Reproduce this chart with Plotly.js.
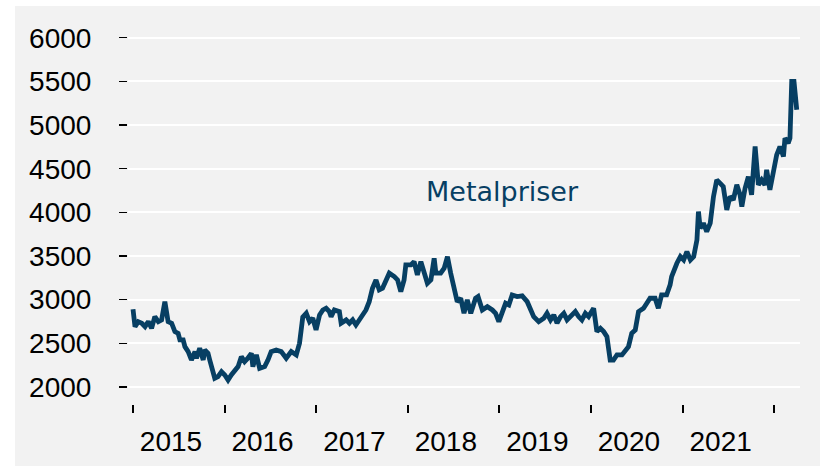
<!DOCTYPE html>
<html>
<head>
<meta charset="utf-8">
<script src="https://cdn.plot.ly/plotly-3.0.1.min.js"></script>
<style>
  html, body { margin: 0; padding: 0; background: #ffffff; }
  #chart { position: absolute; left: 15px; top: 6px; width: 805px; height: 460px; }
</style>
</head>
<body>
<div id="chart"></div>
<script>
// Metal price index
const dates = [
  "2015-01-01","2015-01-09","2015-01-22","2015-02-05","2015-02-18","2015-03-03","2015-03-16","2015-03-29",
  "2015-04-12","2015-04-25","2015-05-08","2015-05-15","2015-05-21","2015-06-04","2015-06-17","2015-06-30",
  "2015-07-07","2015-07-20","2015-07-27","2015-08-09","2015-08-22","2015-09-05","2015-09-11","2015-09-24",
  "2015-10-08","2015-10-14","2015-10-27","2015-11-03","2015-11-16","2015-11-23","2015-12-06","2015-12-20",
  "2016-01-02","2016-01-15","2016-01-28","2016-02-11","2016-02-24","2016-03-08","2016-03-21","2016-04-03",
  "2016-04-17","2016-04-23","2016-05-07","2016-05-20","2016-06-09","2016-06-22","2016-07-05","2016-07-25",
  "2016-08-14","2016-09-03","2016-09-23","2016-10-13","2016-10-26","2016-11-08","2016-11-22","2016-12-05",
  "2016-12-18","2016-12-31","2017-01-14","2017-01-27","2017-02-09","2017-02-22","2017-03-01","2017-03-14",
  "2017-04-03","2017-04-10","2017-04-30","2017-05-13","2017-05-26","2017-06-08","2017-06-22","2017-07-05",
  "2017-07-18","2017-07-31","2017-08-13","2017-08-27","2017-09-09","2017-09-22","2017-10-06","2017-10-19",
  "2017-11-08","2017-11-21","2017-12-04","2017-12-17","2017-12-24","2018-01-13","2018-01-26","2018-02-08",
  "2018-02-22","2018-03-07","2018-03-20","2018-04-03","2018-04-16","2018-04-23","2018-05-12","2018-05-26",
  "2018-06-08","2018-06-21","2018-07-04","2018-07-17","2018-07-31","2018-08-13","2018-08-26","2018-09-09",
  "2018-09-28","2018-10-08","2018-10-25","2018-11-14","2018-12-04","2018-12-17","2018-12-30","2019-01-12",
  "2019-01-26","2019-02-08","2019-02-21","2019-03-13","2019-04-02","2019-04-22","2019-05-05","2019-05-18",
  "2019-06-07","2019-06-27","2019-07-10","2019-07-24","2019-08-06","2019-08-19","2019-09-02","2019-09-15",
  "2019-09-28","2019-10-18","2019-10-31","2019-11-13","2019-11-26","2019-12-10","2019-12-23","2020-01-12",
  "2020-01-25","2020-02-08","2020-02-21","2020-03-05","2020-03-18","2020-03-31","2020-04-14","2020-05-04",
  "2020-05-17","2020-05-30","2020-06-12","2020-06-26","2020-07-09","2020-07-29","2020-08-11","2020-08-24",
  "2020-09-13","2020-09-26","2020-10-09","2020-10-29","2020-11-12","2020-11-18","2020-12-09","2020-12-23",
  "2021-01-05","2021-01-18","2021-02-01","2021-02-14","2021-02-27","2021-03-05","2021-03-12","2021-03-25",
  "2021-04-07","2021-04-21","2021-05-04","2021-05-17","2021-05-30","2021-06-12","2021-06-26","2021-07-09",
  "2021-07-22","2021-08-05","2021-08-18","2021-08-25","2021-09-07","2021-09-20","2021-10-03","2021-10-17",
  "2021-10-30","2021-11-12","2021-11-25","2021-12-02","2021-12-15","2021-12-29","2022-01-11","2022-01-24",
  "2022-02-07","2022-02-13","2022-02-26","2022-03-05","2022-03-12","2022-03-21","2022-03-25","2022-04-01"
];
const metalpriser = [
  2890,2691,2748,2730,2691,2748,2672,2806,
  2748,2768,2977,2882,2748,2730,2634,2615,
  2539,2539,2462,2405,2309,2405,2329,2443,
  2309,2424,2386,2309,2195,2100,2118,2175,
  2138,2080,2138,2195,2233,2347,2290,2329,
  2386,2233,2367,2214,2233,2309,2405,2424,
  2405,2329,2405,2367,2500,2800,2844,2748,
  2787,2653,2825,2882,2902,2863,2806,2882,
  2863,2730,2768,2730,2768,2710,2768,2844,
  2882,2977,3131,3226,3112,3131,3226,3303,
  3264,3226,3092,3226,3398,3398,3436,3284,
  3436,3321,3188,3226,3474,3303,3303,3360,
  3493,3303,3112,2977,3016,2844,2997,2844,
  3016,3035,2882,2920,2882,2844,2748,2844,
  2959,2940,3054,3035,3043,2977,2882,2806,
  2748,2787,2844,2768,2825,2730,2806,2844,
  2768,2825,2863,2806,2768,2844,2806,2902,
  2634,2672,2634,2576,2309,2309,2367,2367,
  2405,2462,2615,2653,2863,2902,2959,3016,
  3016,2902,3054,3054,3169,3264,3417,3493,
  3455,3550,3455,3493,3685,4009,3818,3876,
  3780,3876,4181,4372,4334,4295,4028,4181,
  4143,4315,4200,4066,4277,4410,4200,4754,
  4315,4372,4315,4487,4257,4487,4659,4754,
  4639,4850,4792,4850,5499,5499,5327,5174
];
const seriesName = "Metalpriser";
const yTicks = [2000, 2500, 3000, 3500, 4000, 4500, 5000, 5500, 6000];
const xTickVals = ["2015-01-01","2016-01-01","2017-01-01","2018-01-01","2019-01-01","2020-01-01","2021-01-01","2022-01-01"];
const xTickText = ["2015","2016","2017","2018","2019","2020","2021",""];

const navy = "#073f63";
const tickFont = { family: "Liberation Sans, Arial, sans-serif", size: 28, color: "#000000" };

const trace = {
  x: dates,
  y: metalpriser,
  type: "scatter",
  mode: "lines",
  name: seriesName,
  line: { color: navy, width: 4.8 },
  hoverinfo: "skip"
};

const layout = {
  width: 805,
  height: 460,
  margin: { l: 113, r: 20, t: 23, b: 62 },
  paper_bgcolor: "#f2f2f2",
  plot_bgcolor: "#f2f2f2",
  showlegend: false,
  xaxis: {
    type: "date",
    range: ["2014-12-12", "2022-04-14"],
    tickmode: "array",
    tickvals: xTickVals,
    ticktext: xTickText,
    ticks: "outside",
    ticklen: 8,
    tickwidth: 2,
    tickcolor: "#000000",
    ticklabelshift: 38,
    ticklabelstandoff: 4,
    showgrid: false,
    zeroline: false,
    showline: false,
    tickfont: tickFont,
    fixedrange: true
  },
  yaxis: {
    range: [1805, 6100],
    tickmode: "array",
    tickvals: yTicks,
    ticks: "outside",
    ticklen: 8,
    tickwidth: 1.5,
    tickcolor: "#000000",
    ticklabelstandoff: 22,
    showgrid: true,
    gridcolor: "#ffffff",
    gridwidth: 2,
    zeroline: false,
    showline: false,
    tickfont: tickFont,
    fixedrange: true
  },
  annotations: [{
    x: "2019-01-12",
    y: 4240,
    xref: "x",
    yref: "y",
    text: seriesName,
    showarrow: false,
    xanchor: "center",
    yanchor: "middle",
    font: { family: "DejaVu Sans, sans-serif", size: 27, color: navy }
  }]
};

Plotly.newPlot("chart", [trace], layout, { displayModeBar: false, staticPlot: true });
</script>
</body>
</html>
